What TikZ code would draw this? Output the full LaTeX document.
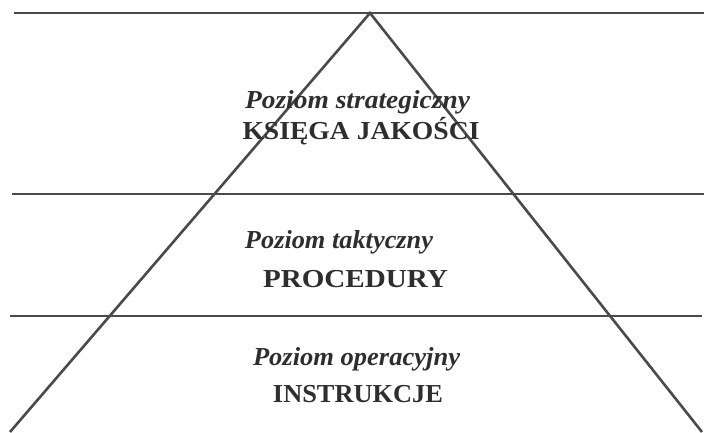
\documentclass[tikz,border=0pt]{standalone}
\usepackage{fontspec}
\setmainfont{Liberation Serif}
\usepackage{graphicx}
\definecolor{linegray}{HTML}{4A4A4A}
\definecolor{textgray}{HTML}{2E2E2E}
\newcommand{\fitw}[2]{\resizebox{#1}{\height}{#2}}
\begin{document}
\begin{tikzpicture}[x=1bp,y=-1bp,
  rule/.style={draw=linegray, line width=2.6bp},
  lvl/.style={anchor=base, inner sep=0pt, text=textgray, font=\fontsize{26}{30}\selectfont\bfseries\itshape},
  docname/.style={anchor=base, inner sep=0pt, text=textgray, font=\fontsize{26}{30}\selectfont\bfseries}]
\useasboundingbox (0,0) rectangle (704,432);
% horizontal rules
\coordinate (h1l) at (14,13);  \coordinate (h1r) at (704,13);
\coordinate (h2l) at (12,194); \coordinate (h2r) at (704,194);
\coordinate (h3l) at (10,316); \coordinate (h3r) at (702,316);
% triangle
\coordinate (apex) at (370,13);
\coordinate (bl) at (10,432);
\coordinate (br) at (702,432);
\draw[rule] (h1l) -- (h1r);
\draw[rule] (h2l) -- (h2r);
\draw[rule] (h3l) -- (h3r);
\draw[rule] (bl) -- (apex) -- (br);
% texts
\node[lvl] (s1) at (357.5,108) {\fitw{225bp}{Poziom strategiczny}};
\node[docname] (s2) at (361,139) {\fitw{237bp}{KSIĘGA JAKOŚCI}};
\node[lvl] (t1) at (339,248) {\fitw{188bp}{Poziom taktyczny}};
\node[docname] (t2) at (355.5,287) {\fitw{185bp}{PROCEDURY}};
\node[lvl] (o1) at (356.5,365) {\fitw{207bp}{Poziom operacyjny}};
\node[docname] (o2) at (358,402) {\fitw{170bp}{INSTRUKCJE}};
\end{tikzpicture}
\end{document}
